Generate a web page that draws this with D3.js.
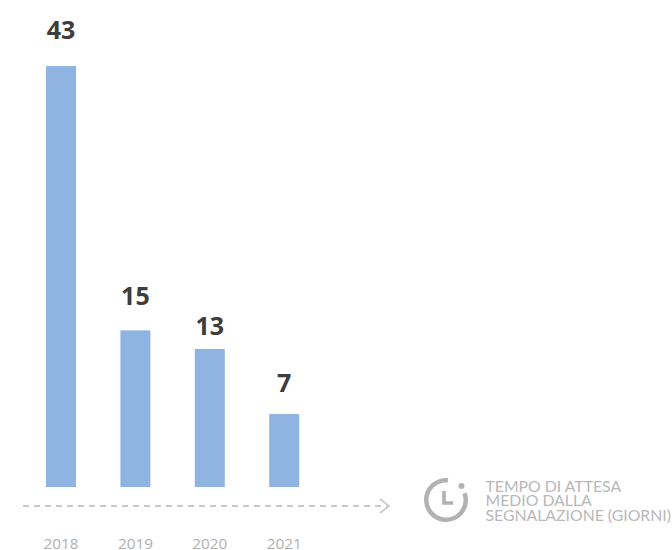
<!DOCTYPE html>
<html><head><meta charset="utf-8">
<script src="https://cdn.jsdelivr.net/npm/d3@7/dist/d3.min.js"></script>
<style>html,body{margin:0;padding:0;background:#fff}svg{display:block}text{font-family:"Open Sans",sans-serif}</style>
</head><body>
<svg id="c" width="672" height="550"></svg>
<script>
const years = ["2018","2019","2020","2021"];
const barValues = [43, 16, 14.1, 7.45];
const valueLabels = ["43","15","13","7"];
const captionLines = ["TEMPO DI ATTESA","MEDIO DALLA","SEGNALAZIONE (GIORNI)"];

const svg = d3.select("#c");
const x = d3.scaleBand().domain(years).range([23.68, 321.52]).paddingInner(0.5968).paddingOuter(0.3);
const y = d3.scaleLinear().domain([0, 43]).range([487, 66]);
const cx = d => x(d) + x.bandwidth() / 2;
const labelGaps = [27, 25, 14, 22];

svg.selectAll("rect.bar").data(years).join("rect").attr("class","bar")
  .attr("x", d => x(d)).attr("width", x.bandwidth())
  .attr("y", (d,i) => y(barValues[i]))
  .attr("height", (d,i) => y(0) - y(barValues[i]))
  .attr("fill", "#8fb4e1");

svg.selectAll("text.val").data(years).join("text").attr("class","val")
  .attr("x", cx).attr("y", (d,i) => y(barValues[i]) - labelGaps[i])
  .attr("text-anchor","middle").attr("font-size",25).attr("font-weight",700)
  .attr("fill","#3d3d3d").text((d,i) => valueLabels[i]);

svg.selectAll("text.yr").data(years).join("text").attr("class","yr")
  .attr("x", cx).attr("y", 549)
  .attr("text-anchor","middle").attr("font-size",15.3)
  .attr("fill","#b0b0b0").text(d => d);

// dashed axis with arrow
svg.append("line").attr("x1",23).attr("x2",388).attr("y1",506).attr("y2",506)
  .attr("stroke","#c9c9c9").attr("stroke-width",2).attr("stroke-dasharray","6 5");
svg.append("path").attr("d", d3.line()([[380,499],[389,506],[380,513]]))
  .attr("fill","none").attr("stroke","#c9c9c9").attr("stroke-width",1.6);

// clock icon
const g = svg.append("g").attr("transform","translate(446,500)");
const arc = d3.arc().innerRadius(17.5).outerRadius(22);
g.append("path").attr("d", arc({startAngle: 1.22, endAngle: 2*Math.PI + 0.1}))
  .attr("fill","#b2b2b2");
g.append("circle").attr("cx",15.5).attr("cy",-14).attr("r",3).attr("fill","#b2b2b2");
g.append("path").attr("d", d3.line()([[-2,-9],[-2,3],[7,3]]))
  .attr("fill","none").attr("stroke","#b2b2b2").attr("stroke-width",3.6);

svg.selectAll("text.cap").data(captionLines).join("text").attr("class","cap")
  .attr("x",485.5).attr("y",(d,i) => 492 + i * 14.3)
  .style("font-family","Lato, sans-serif")
  .attr("font-size",15.8).attr("fill","#b8b8b8").text(d => d);
</script>
</body></html>
